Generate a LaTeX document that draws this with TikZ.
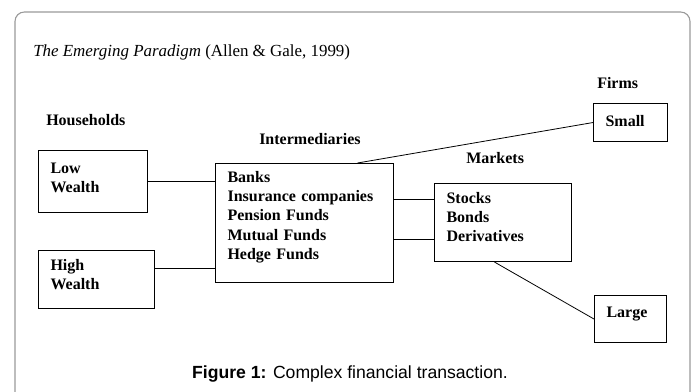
\documentclass[tikz,border=0pt]{standalone}
\usepackage{fontspec}
\setmainfont{Liberation Serif}
\newfontfamily\capfont{Liberation Sans}
\usepackage{xcolor}
\usepackage{tikz}
\usetikzlibrary{positioning,calc}

\begin{document}
\begin{tikzpicture}[x=0.75pt, y=-0.75pt,
    box/.style={draw, line width=0.8pt, anchor=north west, inner xsep=9pt, inner ysep=0pt, align=left, font=\fontsize{12}{14.4}\selectfont\bfseries},
    head/.style={anchor=base west, inner sep=0pt, font=\fontsize{12}{14.4}\selectfont\bfseries},
    link/.style={line width=0.6pt}]
    \useasboundingbox (0,0) rectangle (696,392);
    \clip (0,0) rectangle (696,392);
    \draw[black!40, line width=0.8pt, rounded corners=7pt] (15,410) -- (15,12) -- (690,12) -- (690,410);

    \node[anchor=base west, inner sep=0pt, font=\fontsize{12.7}{15}\selectfont] (title) at (33,57) {\textit{The Emerging Paradigm} (Allen \& Gale, 1999)};

    % Households
    \node[head] (hh) at (46,126) {Households};
    \node[box, text width=63.75pt, text height=17.25pt, text depth=29.25pt] (low) at (38,150) {Low\\Wealth};
    \node[box, text width=69pt, text height=15pt, text depth=28.5pt] (high) at (38,250) {High\\Wealth};

    % Intermediaries
    \node[head] (ih) at (259,145) {Intermediaries};
    \node[box, text width=115.5pt, text height=14.25pt, text depth=75pt] (inter) at (215,163) {Banks\\Insurance companies\\Pension Funds\\Mutual Funds\\Hedge Funds};

    % Markets
    \node[head] (mh) at (466,164) {Markets};
    \node[box, text width=84.75pt, text height=15pt, text depth=43.5pt] (mkt) at (434,183) {Stocks\\Bonds\\Derivatives};

    % Firms
    \node[head] (fh) at (597,89) {Firms};
    \node[box, text width=37.5pt, text height=17.25pt, text depth=11.25pt] (small) at (593,103) {Small};
    \node[box, text width=36pt, text height=16.5pt, text depth=18.75pt] (large) at (594,295) {Large};

    \draw[link] (low.east) -- (low.east -| inter.west);
    \draw[link] ([yshift=8.25pt]high.east) -- ([yshift=8.25pt]high.east -| inter.west);
    \draw[link] ([yshift=17.25pt]mkt.west -| inter.east) -- ([yshift=17.25pt]mkt.west);
    \draw[link] ([yshift=-12.75pt]mkt.west -| inter.east) -- ([yshift=-12.75pt]mkt.west);
    \draw[link] (small.west) -- ([xshift=39.75pt]inter.north);
    \draw[link] ([xshift=-6.4pt]mkt.south) -- (large.west);

    \node[anchor=base, inner sep=0pt, font=\capfont\fontsize{13.2}{16}\selectfont] (cap) at (350,378) {\textbf{Figure 1:} Complex financial transaction.};
\end{tikzpicture}
\end{document}
